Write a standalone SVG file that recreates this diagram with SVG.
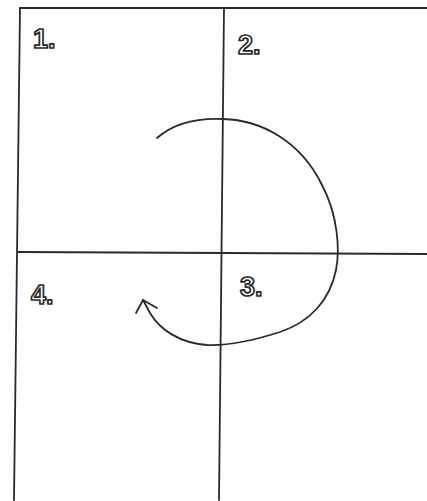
<svg xmlns="http://www.w3.org/2000/svg" width="427" height="501" viewBox="0 0 427 501">
<style>
.ln{stroke:#2a2a2a;stroke-width:1.8;fill:none;stroke-linecap:round}
.lbl{font-family:"Liberation Sans",Arial,sans-serif;font-weight:bold;font-size:27px;fill:#fff;stroke:#2a2a2a;stroke-width:1.7;stroke-linejoin:round}
</style>
<rect width="427" height="501" fill="#fff"/>
<g id="grid">
<path class="ln" d="M20,8 L427,8"/>
<path class="ln" d="M20,8 L14,500"/>
<path class="ln" d="M224,8 L219,500"/>
<path class="ln" d="M18,252 L427,254"/>
</g>
<g id="q1"><text class="lbl" x="33" y="48">1.</text></g>
<g id="q2"><text class="lbl" x="238" y="54">2.</text></g>
<g id="q3"><text class="lbl" x="240" y="296">3.</text></g>
<g id="q4"><text class="lbl" x="31" y="304">4.</text></g>
<g id="connectors">
<path class="ln" d="M157,138 C175,122 200,118 223,119 C260,120 300,140 322,185 C338,215 340,250 336,270 C330,300 310,322 280,332 C255,340 230,346 207,345 C180,343 160,330 150,313 L143,300"/>
<polyline class="ln" points="136,313 143,300 157,308"/>
</g>
</svg>
